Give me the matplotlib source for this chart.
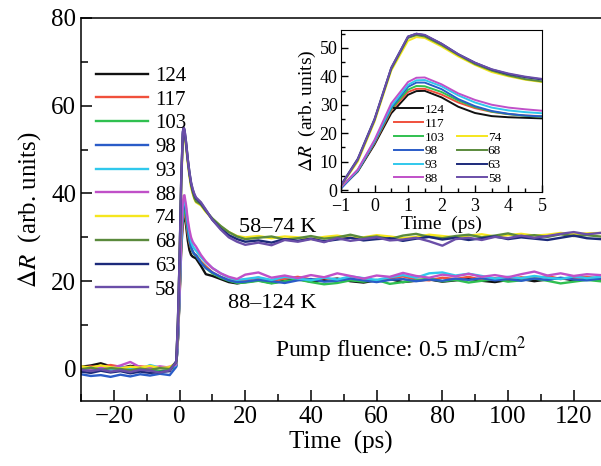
import matplotlib
matplotlib.use('Agg')
import matplotlib.pyplot as plt
from matplotlib.ticker import MultipleLocator
from matplotlib.lines import Line2D

plt.rcParams['font.family'] = ['Liberation Serif', 'DejaVu Serif']
plt.rcParams['mathtext.fontset'] = 'stix'

# temperatures (K) and colours
temps = ['124', '117', '103', '98', '93', '88', '74', '68', '63', '58']
colors = ['#111111', '#f0503c', '#30c050', '#2a5cc8', '#30c8ec',
          '#c050c8', '#f5e61e', '#5a8a3c', '#1c2a7a', '#6a4ea8']

# time grids (ps)
t_pre = [-30, -27, -24, -21, -18, -15, -12, -9, -6, -3]
t_fast = [-1, -0.5, 0, 0.5, 1, 1.25, 1.5, 2, 2.5, 3, 3.5, 4, 4.5, 5]
t_decay = [6.5, 8, 10, 12.5, 15, 17.5]
t_tail = list(range(20, 129, 4))

# baseline before pump
pre = {
    '124': [0.5, 0.8, 1.3, 0.6, 0.2, 0.7, 0.4, 0.1, 0.3, 0.2],
    '117': [0.2, 0.6, 0.4, 0.9, 0.5, 0.3, 0.6, 0.4, 0.2, 0.5],
    '103': [-0.3, 0.1, -0.2, 0.3, -0.4, 0, -0.3, -0.1, -0.5, -0.2],
    '98': [-1.2, -1.6, -1.4, -1.8, -1.3, -1.7, -1.2, -1.5, -1.1, -1.4],
    '93': [0.1, -0.3, 0.2, -0.2, 0.4, 0.1, -0.1, 0.9, 0.3, 0],
    '88': [0.3, 0, 0.5, 0.2, 0.8, 1.6, 0.4, 0.2, 0.6, 0.3],
    '74': [0.6, 0.3, 0.8, 0.4, 0.1, 0.5, 0.3, 0.7, 0.2, 0.4],
    '68': [-0.1, 0.3, -0.2, 0.2, 0, -0.3, 0.1, -0.2, 0.2, 0],
    '63': [-0.6, -0.9, -0.4, -0.8, -0.5, -1, -0.6, -0.9, -0.7, -0.5],
    '58': [-0.2, -0.5, -0.1, -0.6, -0.3, -0.7, -0.2, -0.4, -0.8, -0.3],
}

# rise and peak (-1 .. 5 ps), also shown in the inset
fast = {
    '124': [0.8, 6.5, 16, 27, 33.5, 34.8, 34.9, 32.6, 29.3, 27.1, 26, 25.6, 25.4, 25.2],
    '117': [0.8, 6.8, 16.5, 28, 34.5, 35.6, 35.6, 33.6, 30.8, 28.8, 27.5, 26.7, 26.2, 26.0],
    '103': [0.7, 6.8, 16.8, 28.5, 35.3, 36.6, 36.5, 34.5, 31.5, 29.2, 27.6, 26.7, 26.1, 25.8],
    '98': [0.5, 6.8, 17, 29, 36.3, 37.8, 37.8, 35.5, 32, 29.5, 27.8, 26.8, 26.2, 25.9],
    '93': [0.9, 7, 17.3, 29.5, 37, 38.6, 38.7, 36.5, 33.3, 30.8, 29, 28, 27.4, 27],
    '88': [1, 7.2, 17.6, 30.5, 38, 39.5, 39.6, 37.2, 34, 31.7, 30, 29, 28.4, 27.9],
    '74': [1.5, 10, 24, 42, 52.5, 53.8, 53.5, 50.5, 47, 44, 41.5, 40, 38.8, 38.0],
    '68': [1.5, 10.5, 24.5, 42.5, 53.5, 54.5, 54, 51, 47.5, 44.3, 42, 40.3, 39, 38.2],
    '63': [1.8, 11, 25, 43, 54, 55, 54.5, 51.5, 47.8, 44.8, 42.4, 40.8, 39.7, 38.9],
    '58': [1.6, 10.8, 24.8, 43, 54, 55, 54.6, 51.5, 47.8, 44.8, 42.5, 41, 39.9, 39.1],
}

decay = {
    '124': [23.5, 21.6, 21.2, 20.5, 19.8, 19.5],
    '117': [24.5, 23.4, 22, 21, 20.3, 20],
    '103': [24.3, 23, 21.8, 20.8, 20.1, 19.6],
    '98': [24.2, 23, 22, 21, 20.2, 19.8],
    '93': [25.5, 24.3, 23, 21.8, 20.8, 20.3],
    '88': [26, 24.5, 23, 21.8, 21, 20.5],
    '74': [37.3, 35.8, 34.2, 32.5, 31.2, 30.3],
    '68': [37.5, 36, 34.3, 32.6, 31.2, 30.2],
    '63': [37.8, 36.2, 34, 32, 30.5, 29.6],
    '58': [38, 36.3, 34, 31.8, 30, 29],
}

tail = {
    '124': [19.8, 20.2, 19.6, 20.1, 20.5, 19.9, 20.3, 20.6, 20, 19.7, 20.2, 20.5, 19.8, 20.1,
            20.4, 19.9, 20.2, 20.6, 20.1, 19.8, 20.3, 20.5, 20, 20.4, 20.7, 20.2, 20.5, 20.3],
    '117': [20.3, 20.8, 20.1, 20.6, 21, 20.4, 20.7, 20.2, 20.9, 20.5, 20.1, 20.6, 21.1, 20.4,
            20.2, 20.8, 20.5, 21, 20.3, 20.7, 20.4, 20.9, 20.6, 21.2, 20.5, 20.8, 21, 20.6],
    '103': [19.7, 20.1, 19.5, 20, 20.4, 19.8, 19.3, 19.6, 20.2, 19.9, 20.3, 19.4, 19.8, 20.2,
            20.6, 20, 20.3, 19.7, 20.1, 20.5, 19.9, 20.2, 20.6, 20.1, 19.5, 19.9, 20.3, 20],
    '98': [19.9, 20.3, 20, 19.6, 20.2, 20.5, 19.9, 20.1, 20.6, 20.2, 19.8, 20.3, 20.5, 20,
           20.4, 20.1, 20.6, 20.3, 20.7, 20.2, 20.5, 20.1, 20.6, 20.3, 20.8, 20.4, 20.2, 20.6],
    '93': [20.5, 20.9, 20.3, 21, 20.6, 20.2, 20.8, 20.4, 21.1, 20.7, 20.3, 20.9, 21.4, 20.8,
           21.8, 22, 21.3, 21.7, 21.2, 20.6, 21, 20.7, 21.2, 20.8, 20.5, 21.1, 20.7, 21],
    '88': [21.5, 22, 20.8, 21.3, 20.7, 21.4, 20.9, 21.8, 21.2, 20.6, 21.3, 21, 21.9, 21.2,
           20.8, 21.5, 21.1, 21.7, 21, 21.4, 20.9, 21.6, 22.2, 21.3, 21.8, 21.2, 21.6, 21.4],
    '74': [30, 30.3, 29.8, 30.2, 30, 29.6, 30.1, 30.4, 29.9, 30, 30.5, 30.2, 29.8, 30.1,
           30.6, 30.3, 30, 30.4, 30.7, 30.2, 30.5, 30.8, 30.4, 30.6, 31, 30.7, 30.9, 31],
    '68': [29.6, 29.9, 30.2, 29.5, 29.8, 30.3, 29.7, 30, 30.6, 29.9, 30.2, 29.6, 30.4, 30.8,
           30.1, 29.8, 30.3, 30.6, 30, 30.4, 30.9, 30.2, 30.5, 30.1, 30.7, 30.3, 30.5, 30.2],
    '63': [29, 29.3, 28.8, 29.6, 29.2, 29.7, 29.1, 29.5, 29.9, 29.3, 29.6, 29.8, 29.2, 29.7,
           30.1, 29.5, 29.9, 29.4, 29.8, 30.2, 29.6, 30, 29.7, 29.4, 29.9, 30.4, 29.8, 29.6],
    '58': [28.3, 28.8, 28.2, 29.4, 29, 29.6, 28.9, 29.8, 29.2, 29.6, 30, 29.3, 29.5, 29.9,
           29.1, 28.1, 29.6, 29.9, 29.4, 30.1, 29.8, 30.4, 29.9, 30.3, 30.8, 31.2, 30.7, 31],
}

t_all = t_pre + t_fast + t_decay + t_tail

fig = plt.figure(figsize=(6.01, 4.66), dpi=100)
ax = fig.add_axes([0.1348, 0.1395, 0.8652, 0.8219])

for name, c in zip(temps, colors):
    y = pre[name] + fast[name] + decay[name] + tail[name]
    ax.plot(t_all, y, color=c, lw=1.7, label=name)

ax.set_xlim(-30, 128.3)
ax.set_ylim(-7.3, 80)
ax.xaxis.set_major_locator(MultipleLocator(20))
ax.xaxis.set_minor_locator(MultipleLocator(10))
ax.yaxis.set_major_locator(MultipleLocator(20))
ax.yaxis.set_minor_locator(MultipleLocator(10))
ax.tick_params(which='both', direction='in', top=False, right=False, labelsize=18, width=1.1)
ax.tick_params(which='major', length=8)
ax.tick_params(which='minor', length=5)
ax.spines['right'].set_visible(False)
for s in ['left', 'bottom', 'top']:
    ax.spines[s].set_linewidth(1.1)
ax.set_xlabel('Time  (ps)', fontsize=18, labelpad=2)
ax.set_ylabel(r'$\Delta R$  (arb. units)', fontsize=18, labelpad=6)

ax.legend(loc='upper left', bbox_to_anchor=(0.0, 0.912), frameon=False, fontsize=15,
          handlelength=2.5, handletextpad=0.35, labelspacing=0.2, borderaxespad=0.3)

ax.text(18, 32.3, '58–74 K', fontsize=16, va='center')
ax.text(14.6, 15, '88–124 K', fontsize=16, va='center')
ax.text(29, 4.5, r'Pump fluence: 0.5 mJ/cm$^2$', fontsize=17, va='center')

# inset: first 5 ps
ins = fig.add_axes([0.5674, 0.588, 0.3344, 0.3476])
for name, c in zip(temps, colors):
    ins.plot(t_fast, fast[name], color=c, lw=1.4)
ins.set_xlim(-1, 5)
ins.set_ylim(-0.7, 56.3)
ins.xaxis.set_major_locator(MultipleLocator(1))
ins.xaxis.set_minor_locator(MultipleLocator(0.5))
ins.yaxis.set_major_locator(MultipleLocator(10))
ins.yaxis.set_minor_locator(MultipleLocator(5))
ins.tick_params(which='both', direction='in', labelsize=13, width=1)
ins.tick_params(which='major', length=5)
ins.tick_params(which='minor', length=3)
ins.tick_params(axis='x', pad=4.5)
ins.tick_params(axis='y', pad=2.5)
ins.set_xlabel('Time  (ps)', fontsize=14, labelpad=0)
ins.set_ylabel(r'$\Delta R$  (arb. units)', fontsize=14, labelpad=1)

blank = Line2D([], [], lw=0)
handles = [Line2D([], [], color=c, lw=1.4) for c in colors]
labels = list(temps)
leg_h = handles[:6] + [blank, blank] + handles[6:]
leg_l = labels[:6] + ['', ''] + labels[6:]
ins.legend(leg_h, leg_l, loc='lower center', bbox_to_anchor=(0.53, -0.03), ncol=2,
           frameon=False, fontsize=9.5, handlelength=2.2, handletextpad=0.1,
           labelspacing=0.12, columnspacing=1.0)

fig.savefig('out.png', dpi=100)
